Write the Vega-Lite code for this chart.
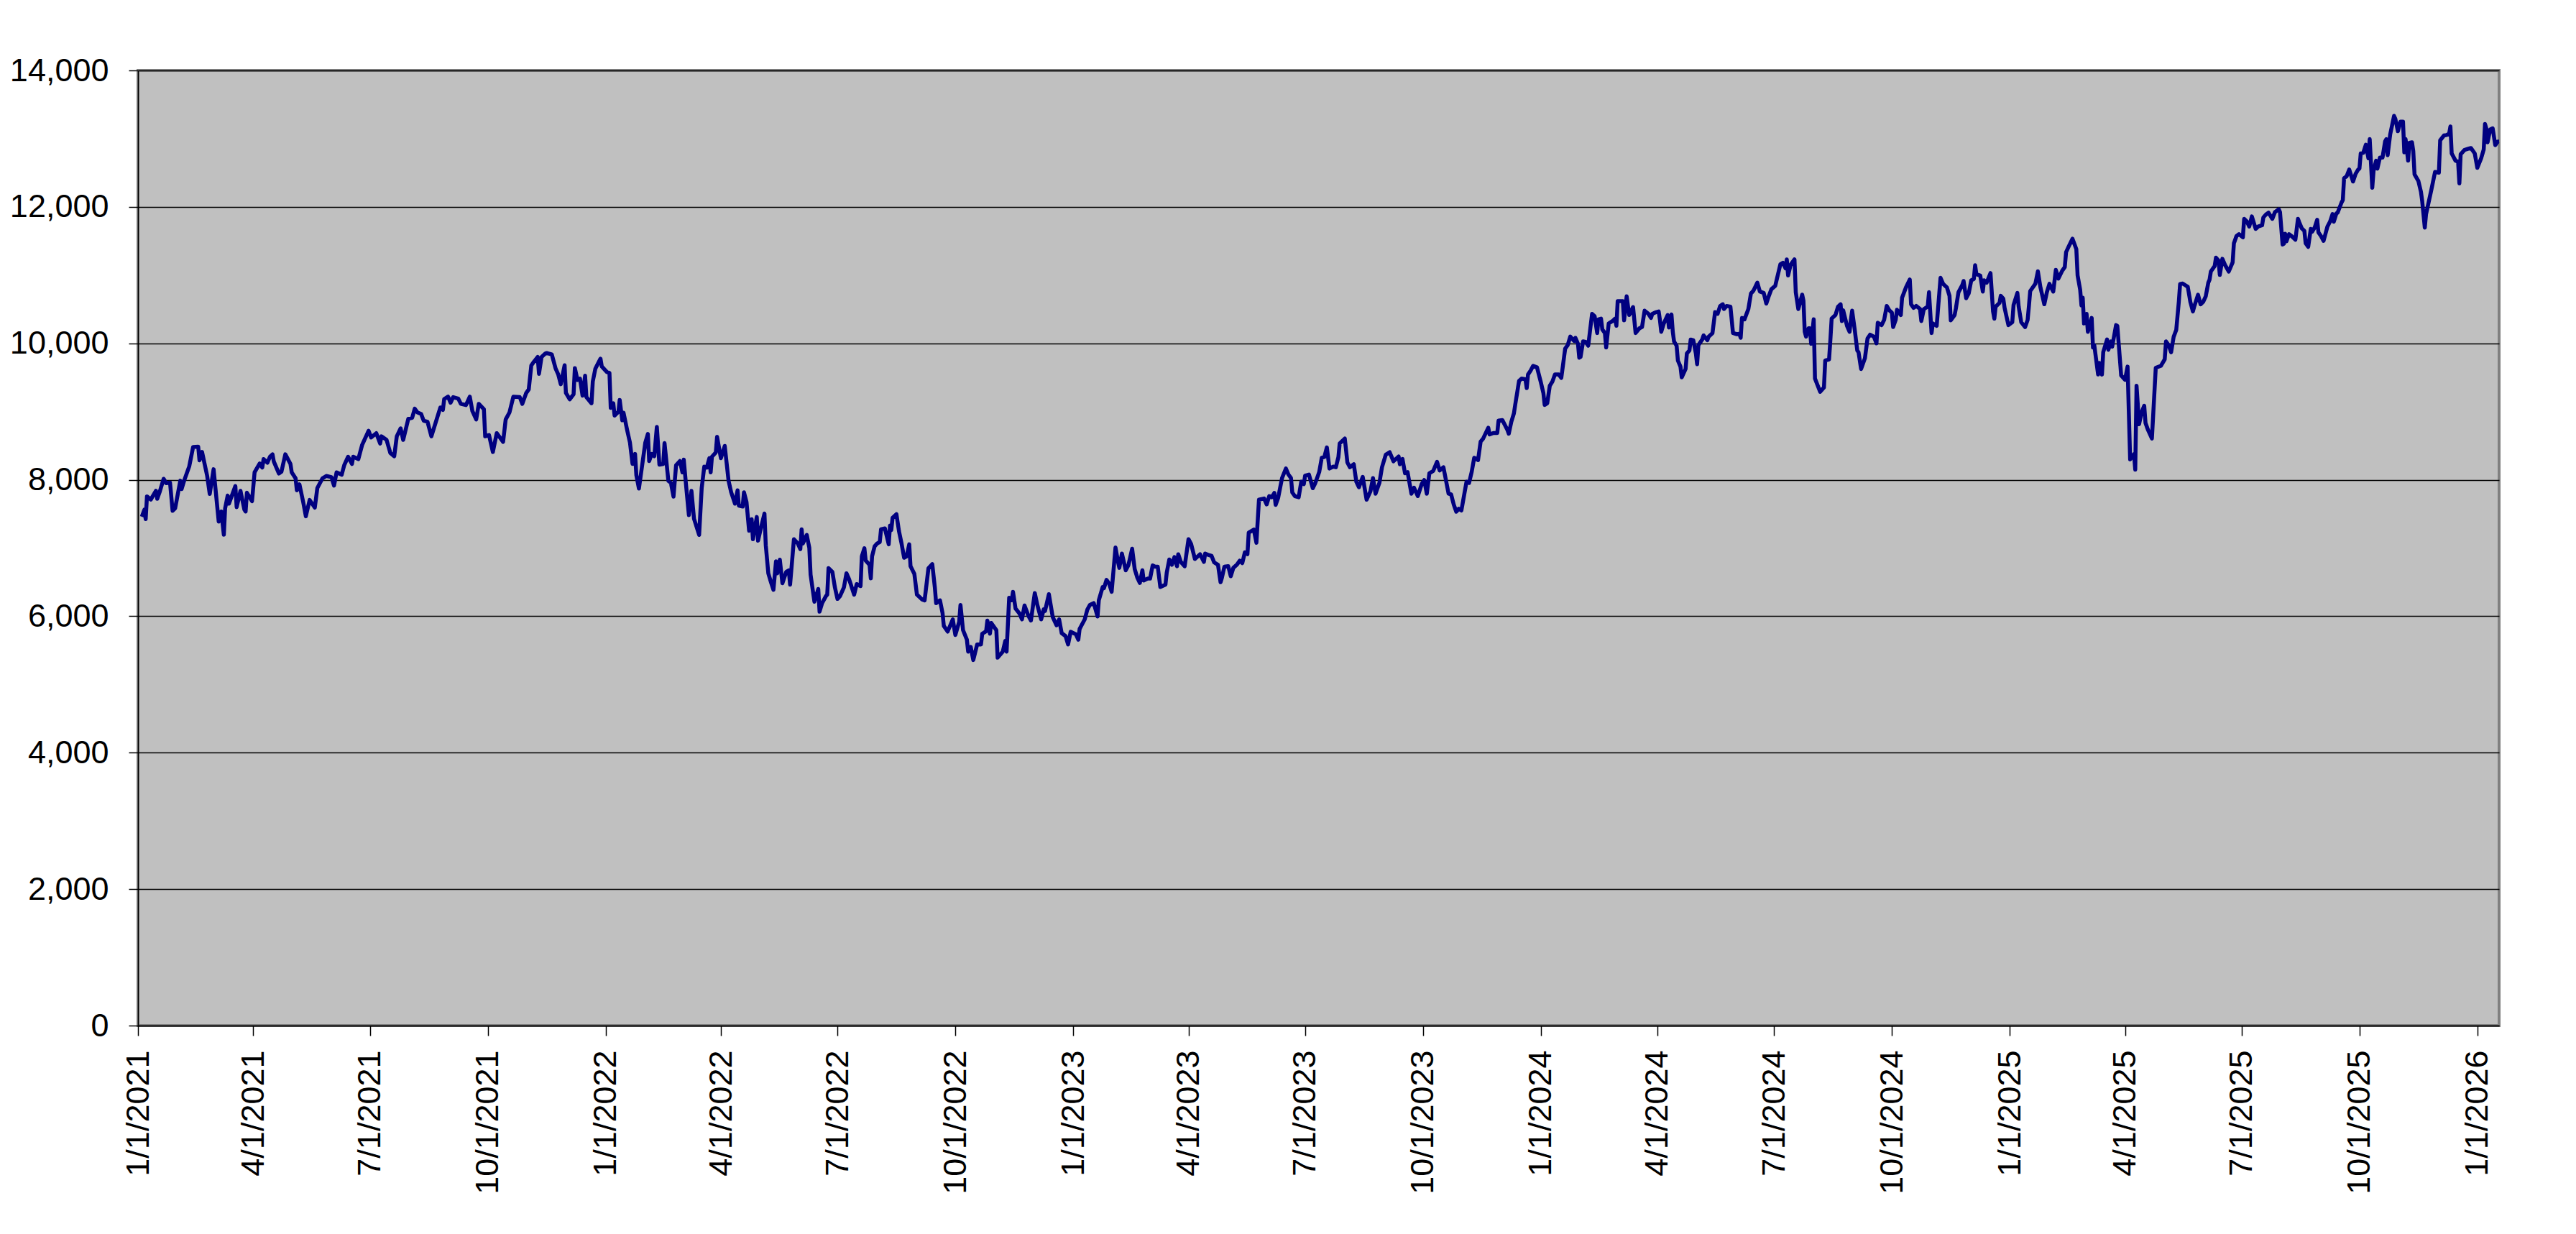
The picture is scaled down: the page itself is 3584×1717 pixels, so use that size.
{
  "$schema": "https://vega.github.io/schema/vega-lite/v6.json",
  "description": "Daily index level, Jan 2021 - Jan 2026",
  "autosize": {"type": "none"},
  "width": 3285,
  "height": 1329,
  "padding": {"left": 192, "top": 98, "right": 107, "bottom": 290},
  "background": "white",
  "data": {
    "values": [
      {"date":"2021-01-04","value":7458},{"date":"2021-01-06","value":7563},{"date":"2021-01-07","value":7423},{"date":"2021-01-08","value":7757},
      {"date":"2021-01-11","value":7711},{"date":"2021-01-13","value":7775},{"date":"2021-01-15","value":7838},{"date":"2021-01-16","value":7722},
      {"date":"2021-01-18","value":7827},{"date":"2021-01-21","value":8014},{"date":"2021-01-23","value":7951},{"date":"2021-01-26","value":7958},
      {"date":"2021-01-28","value":7546},{"date":"2021-01-30","value":7581},{"date":"2021-02-03","value":7986},{"date":"2021-02-04","value":7863},
      {"date":"2021-02-06","value":7986},{"date":"2021-02-10","value":8197},{"date":"2021-02-13","value":8479},{"date":"2021-02-17","value":8486},
      {"date":"2021-02-18","value":8285},{"date":"2021-02-20","value":8408},{"date":"2021-02-24","value":8056},{"date":"2021-02-26","value":7792},
      {"date":"2021-03-01","value":8155},{"date":"2021-03-05","value":7387},{"date":"2021-03-07","value":7535},{"date":"2021-03-09","value":7194},
      {"date":"2021-03-10","value":7581},{"date":"2021-03-12","value":7768},{"date":"2021-03-13","value":7651},{"date":"2021-03-18","value":7908},
      {"date":"2021-03-19","value":7599},{"date":"2021-03-22","value":7838},{"date":"2021-03-25","value":7563},{"date":"2021-03-26","value":7535},
      {"date":"2021-03-27","value":7810},{"date":"2021-03-31","value":7687},{"date":"2021-04-02","value":8109},{"date":"2021-04-06","value":8239},
      {"date":"2021-04-08","value":8180},{"date":"2021-04-09","value":8303},{"date":"2021-04-12","value":8250},{"date":"2021-04-14","value":8338},
      {"date":"2021-04-16","value":8373},{"date":"2021-04-17","value":8268},{"date":"2021-04-21","value":8092},{"date":"2021-04-23","value":8120},
      {"date":"2021-04-26","value":8373},{"date":"2021-04-30","value":8232},{"date":"2021-05-01","value":8109},{"date":"2021-05-04","value":8021},
      {"date":"2021-05-05","value":7845},{"date":"2021-05-07","value":7933},{"date":"2021-05-10","value":7669},{"date":"2021-05-12","value":7465},
      {"date":"2021-05-15","value":7704},{"date":"2021-05-19","value":7592},{"date":"2021-05-21","value":7880},{"date":"2021-05-25","value":8021},
      {"date":"2021-05-28","value":8056},{"date":"2021-06-01","value":8039},{"date":"2021-06-03","value":7915},{"date":"2021-06-05","value":8109},
      {"date":"2021-06-09","value":8074},{"date":"2021-06-11","value":8215},{"date":"2021-06-14","value":8338},{"date":"2021-06-17","value":8232},
      {"date":"2021-06-18","value":8338},{"date":"2021-06-22","value":8303},{"date":"2021-06-25","value":8514},{"date":"2021-06-30","value":8718},
      {"date":"2021-07-02","value":8620},{"date":"2021-07-06","value":8683},{"date":"2021-07-09","value":8532},{"date":"2021-07-10","value":8637},
      {"date":"2021-07-14","value":8585},{"date":"2021-07-17","value":8391},{"date":"2021-07-20","value":8345},{"date":"2021-07-22","value":8637},
      {"date":"2021-07-25","value":8754},{"date":"2021-07-27","value":8585},{"date":"2021-07-31","value":8894},{"date":"2021-08-03","value":8908},
      {"date":"2021-08-05","value":9042},{"date":"2021-08-07","value":8989},{"date":"2021-08-10","value":8965},{"date":"2021-08-12","value":8866},
      {"date":"2021-08-15","value":8849},{"date":"2021-08-18","value":8637},{"date":"2021-08-25","value":9060},{"date":"2021-08-27","value":9025},
      {"date":"2021-08-28","value":9183},{"date":"2021-08-31","value":9218},{"date":"2021-09-02","value":9130},{"date":"2021-09-04","value":9211},
      {"date":"2021-09-08","value":9190},{"date":"2021-09-10","value":9113},{"date":"2021-09-14","value":9095},{"date":"2021-09-17","value":9218},
      {"date":"2021-09-19","value":9007},{"date":"2021-09-22","value":8884},{"date":"2021-09-24","value":9113},{"date":"2021-09-28","value":9035},
      {"date":"2021-09-29","value":8637},{"date":"2021-10-02","value":8655},{"date":"2021-10-05","value":8408},{"date":"2021-10-08","value":8683},
      {"date":"2021-10-13","value":8556},{"date":"2021-10-15","value":8884},{"date":"2021-10-18","value":8989},{"date":"2021-10-21","value":9218},
      {"date":"2021-10-26","value":9211},{"date":"2021-10-28","value":9113},{"date":"2021-10-31","value":9271},{"date":"2021-11-02","value":9324},
      {"date":"2021-11-04","value":9676},{"date":"2021-11-06","value":9729},{"date":"2021-11-09","value":9800},{"date":"2021-11-10","value":9553},
      {"date":"2021-11-12","value":9800},{"date":"2021-11-15","value":9852},{"date":"2021-11-16","value":9858},{"date":"2021-11-20","value":9837},
      {"date":"2021-11-23","value":9629},{"date":"2021-11-25","value":9546},{"date":"2021-11-27","value":9400},{"date":"2021-11-30","value":9679},
      {"date":"2021-12-01","value":9275},{"date":"2021-12-04","value":9179},{"date":"2021-12-07","value":9254},{"date":"2021-12-08","value":9637},
      {"date":"2021-12-10","value":9463},{"date":"2021-12-12","value":9483},{"date":"2021-12-14","value":9233},{"date":"2021-12-16","value":9525},
      {"date":"2021-12-17","value":9212},{"date":"2021-12-21","value":9121},{"date":"2021-12-22","value":9442},{"date":"2021-12-24","value":9629},
      {"date":"2021-12-28","value":9775},{"date":"2021-12-29","value":9662},{"date":"2022-01-02","value":9579},{"date":"2022-01-04","value":9567},
      {"date":"2022-01-05","value":9054},{"date":"2022-01-07","value":9121},{"date":"2022-01-08","value":8942},{"date":"2022-01-11","value":8996},
      {"date":"2022-01-12","value":9171},{"date":"2022-01-14","value":8871},{"date":"2022-01-15","value":8983},{"date":"2022-01-18","value":8712},
      {"date":"2022-01-20","value":8546},{"date":"2022-01-22","value":8233},{"date":"2022-01-24","value":8379},{"date":"2022-01-25","value":8067},
      {"date":"2022-01-27","value":7871},{"date":"2022-01-30","value":8275},{"date":"2022-02-01","value":8546},{"date":"2022-02-03","value":8671},
      {"date":"2022-02-04","value":8275},{"date":"2022-02-06","value":8379},{"date":"2022-02-08","value":8346},{"date":"2022-02-10","value":8775},
      {"date":"2022-02-12","value":8221},{"date":"2022-02-15","value":8233},{"date":"2022-02-16","value":8538},{"date":"2022-02-19","value":7983},
      {"date":"2022-02-21","value":7954},{"date":"2022-02-23","value":7754},{"date":"2022-02-25","value":8212},{"date":"2022-02-28","value":8275},
      {"date":"2022-03-02","value":8108},{"date":"2022-03-03","value":8296},{"date":"2022-03-05","value":7879},{"date":"2022-03-07","value":7483},
      {"date":"2022-03-09","value":7837},{"date":"2022-03-11","value":7429},{"date":"2022-03-15","value":7192},{"date":"2022-03-17","value":7879},
      {"date":"2022-03-19","value":8192},{"date":"2022-03-21","value":8179},{"date":"2022-03-23","value":8317},{"date":"2022-03-24","value":8108},
      {"date":"2022-03-25","value":8338},{"date":"2022-03-28","value":8400},{"date":"2022-03-29","value":8629},{"date":"2022-04-01","value":8317},
      {"date":"2022-04-04","value":8496},{"date":"2022-04-07","value":7983},{"date":"2022-04-09","value":7817},{"date":"2022-04-12","value":7650},
      {"date":"2022-04-14","value":7846},{"date":"2022-04-15","value":7621},{"date":"2022-04-18","value":7608},{"date":"2022-04-19","value":7817},
      {"date":"2022-04-21","value":7671},{"date":"2022-04-23","value":7254},{"date":"2022-04-25","value":7421},{"date":"2022-04-26","value":7129},
      {"date":"2022-04-29","value":7454},{"date":"2022-04-30","value":7108},{"date":"2022-05-02","value":7275},{"date":"2022-05-05","value":7504},
      {"date":"2022-05-06","value":7046},{"date":"2022-05-08","value":6629},{"date":"2022-05-10","value":6504},{"date":"2022-05-12","value":6387},
      {"date":"2022-05-14","value":6804},{"date":"2022-05-15","value":6629},{"date":"2022-05-17","value":6829},{"date":"2022-05-19","value":6483},
      {"date":"2022-05-22","value":6650},{"date":"2022-05-24","value":6671},{"date":"2022-05-25","value":6462},{"date":"2022-05-28","value":7129},
      {"date":"2022-05-31","value":7067},{"date":"2022-06-02","value":6983},{"date":"2022-06-03","value":7275},{"date":"2022-06-04","value":7067},
      {"date":"2022-06-07","value":7192},{"date":"2022-06-09","value":7004},{"date":"2022-06-10","value":6608},{"date":"2022-06-13","value":6212},
      {"date":"2022-06-16","value":6400},{"date":"2022-06-17","value":6067},{"date":"2022-06-19","value":6192},{"date":"2022-06-22","value":6296},
      {"date":"2022-06-23","value":6317},{"date":"2022-06-24","value":6704},{"date":"2022-06-27","value":6650},{"date":"2022-06-29","value":6421},
      {"date":"2022-07-01","value":6254},{"date":"2022-07-03","value":6296},{"date":"2022-07-06","value":6421},{"date":"2022-07-08","value":6629},
      {"date":"2022-07-10","value":6546},{"date":"2022-07-14","value":6317},{"date":"2022-07-16","value":6471},{"date":"2022-07-19","value":6442},
      {"date":"2022-07-20","value":6879},{"date":"2022-07-22","value":6996},{"date":"2022-07-23","value":6817},{"date":"2022-07-26","value":6754},
      {"date":"2022-07-27","value":6554},{"date":"2022-07-28","value":6879},{"date":"2022-07-30","value":7025},{"date":"2022-08-01","value":7067},
      {"date":"2022-08-03","value":7087},{"date":"2022-08-04","value":7275},{"date":"2022-08-07","value":7287},{"date":"2022-08-10","value":7054},
      {"date":"2022-08-11","value":7329},{"date":"2022-08-12","value":7263},{"date":"2022-08-13","value":7442},{"date":"2022-08-16","value":7496},
      {"date":"2022-08-18","value":7246},{"date":"2022-08-20","value":7067},{"date":"2022-08-22","value":6858},{"date":"2022-08-24","value":6879},
      {"date":"2022-08-26","value":7054},{"date":"2022-08-27","value":6733},{"date":"2022-08-30","value":6621},{"date":"2022-09-01","value":6317},
      {"date":"2022-09-05","value":6246},{"date":"2022-09-07","value":6233},{"date":"2022-09-10","value":6704},{"date":"2022-09-13","value":6763},
      {"date":"2022-09-15","value":6421},{"date":"2022-09-16","value":6192},{"date":"2022-09-19","value":6233},{"date":"2022-09-21","value":6046},
      {"date":"2022-09-22","value":5858},{"date":"2022-09-25","value":5775},{"date":"2022-09-29","value":5954},{"date":"2022-10-01","value":5726},
      {"date":"2022-10-04","value":5919},{"date":"2022-10-05","value":6165},{"date":"2022-10-07","value":5796},{"date":"2022-10-10","value":5656},
      {"date":"2022-10-11","value":5481},{"date":"2022-10-13","value":5551},{"date":"2022-10-15","value":5358},{"date":"2022-10-18","value":5586},
      {"date":"2022-10-21","value":5586},{"date":"2022-10-22","value":5744},{"date":"2022-10-25","value":5779},{"date":"2022-10-26","value":5937},
      {"date":"2022-10-28","value":5744},{"date":"2022-10-29","value":5902},{"date":"2022-11-02","value":5796},{"date":"2022-11-03","value":5393},
      {"date":"2022-11-07","value":5481},{"date":"2022-11-09","value":5639},{"date":"2022-11-10","value":5481},{"date":"2022-11-12","value":6270},
      {"date":"2022-11-14","value":6235},{"date":"2022-11-15","value":6358},{"date":"2022-11-17","value":6112},{"date":"2022-11-20","value":6042},
      {"date":"2022-11-22","value":5954},{"date":"2022-11-24","value":6158},{"date":"2022-11-27","value":6007},{"date":"2022-11-29","value":5937},
      {"date":"2022-12-02","value":6340},{"date":"2022-12-04","value":6165},{"date":"2022-12-07","value":5954},{"date":"2022-12-09","value":6102},
      {"date":"2022-12-10","value":6077},{"date":"2022-12-13","value":6323},{"date":"2022-12-16","value":5989},{"date":"2022-12-19","value":5867},
      {"date":"2022-12-21","value":5954},{"date":"2022-12-23","value":5751},{"date":"2022-12-26","value":5709},{"date":"2022-12-28","value":5586},
      {"date":"2022-12-30","value":5772},{"date":"2023-01-03","value":5737},{"date":"2023-01-05","value":5656},{"date":"2023-01-06","value":5814},
      {"date":"2023-01-07","value":5849},{"date":"2023-01-10","value":5954},{"date":"2023-01-12","value":6095},{"date":"2023-01-14","value":6165},
      {"date":"2023-01-17","value":6193},{"date":"2023-01-20","value":5996},{"date":"2023-01-21","value":6235},{"date":"2023-01-24","value":6428},
      {"date":"2023-01-25","value":6411},{"date":"2023-01-27","value":6533},{"date":"2023-01-29","value":6481},{"date":"2023-01-31","value":6358},
      {"date":"2023-02-03","value":7007},{"date":"2023-02-05","value":6796},{"date":"2023-02-06","value":6709},{"date":"2023-02-08","value":6919},
      {"date":"2023-02-11","value":6674},{"date":"2023-02-13","value":6744},{"date":"2023-02-16","value":6989},{"date":"2023-02-18","value":6691},
      {"date":"2023-02-20","value":6568},{"date":"2023-02-22","value":6488},{"date":"2023-02-24","value":6674},{"date":"2023-02-25","value":6523},
      {"date":"2023-02-28","value":6551},{"date":"2023-03-02","value":6551},{"date":"2023-03-04","value":6744},{"date":"2023-03-06","value":6726},
      {"date":"2023-03-08","value":6726},{"date":"2023-03-10","value":6428},{"date":"2023-03-14","value":6463},{"date":"2023-03-15","value":6639},
      {"date":"2023-03-17","value":6832},{"date":"2023-03-19","value":6754},{"date":"2023-03-21","value":6867},{"date":"2023-03-23","value":6733},
      {"date":"2023-03-24","value":6909},{"date":"2023-03-26","value":6796},{"date":"2023-03-29","value":6733},{"date":"2023-04-01","value":7130},
      {"date":"2023-04-03","value":7060},{"date":"2023-04-06","value":6839},{"date":"2023-04-10","value":6909},{"date":"2023-04-13","value":6796},
      {"date":"2023-04-14","value":6919},{"date":"2023-04-17","value":6895},{"date":"2023-04-19","value":6884},{"date":"2023-04-21","value":6789},
      {"date":"2023-04-24","value":6754},{"date":"2023-04-26","value":6498},{"date":"2023-04-27","value":6558},{"date":"2023-04-29","value":6726},
      {"date":"2023-05-02","value":6733},{"date":"2023-05-04","value":6586},{"date":"2023-05-06","value":6709},{"date":"2023-05-09","value":6761},
      {"date":"2023-05-11","value":6814},{"date":"2023-05-13","value":6779},{"date":"2023-05-15","value":6937},{"date":"2023-05-17","value":6909},
      {"date":"2023-05-18","value":7225},{"date":"2023-05-22","value":7270},{"date":"2023-05-24","value":7077},{"date":"2023-05-26","value":7709},
      {"date":"2023-05-30","value":7726},{"date":"2023-06-01","value":7639},{"date":"2023-06-03","value":7761},{"date":"2023-06-05","value":7744},
      {"date":"2023-06-07","value":7807},{"date":"2023-06-08","value":7632},{"date":"2023-06-10","value":7737},{"date":"2023-06-13","value":8025},
      {"date":"2023-06-16","value":8165},{"date":"2023-06-18","value":8077},{"date":"2023-06-20","value":8025},{"date":"2023-06-21","value":7814},
      {"date":"2023-06-23","value":7761},{"date":"2023-06-26","value":7744},{"date":"2023-06-28","value":7972},{"date":"2023-06-30","value":7937},
      {"date":"2023-07-01","value":8060},{"date":"2023-07-04","value":8077},{"date":"2023-07-07","value":7877},{"date":"2023-07-09","value":7954},
      {"date":"2023-07-12","value":8112},{"date":"2023-07-14","value":8323},{"date":"2023-07-16","value":8333},{"date":"2023-07-18","value":8474},
      {"date":"2023-07-20","value":8165},{"date":"2023-07-23","value":8193},{"date":"2023-07-25","value":8183},{"date":"2023-07-27","value":8333},
      {"date":"2023-07-28","value":8533},{"date":"2023-08-01","value":8604},{"date":"2023-08-03","value":8253},{"date":"2023-08-05","value":8183},
      {"date":"2023-08-08","value":8228},{"date":"2023-08-10","value":7972},{"date":"2023-08-12","value":7891},{"date":"2023-08-15","value":8042},
      {"date":"2023-08-18","value":7708},{"date":"2023-08-21","value":7831},{"date":"2023-08-23","value":8025},{"date":"2023-08-25","value":7796},
      {"date":"2023-08-28","value":7954},{"date":"2023-08-30","value":8183},{"date":"2023-09-02","value":8369},{"date":"2023-09-05","value":8404},
      {"date":"2023-09-08","value":8271},{"date":"2023-09-12","value":8341},{"date":"2023-09-13","value":8228},{"date":"2023-09-15","value":8306},
      {"date":"2023-09-17","value":8095},{"date":"2023-09-19","value":8112},{"date":"2023-09-22","value":7796},{"date":"2023-09-24","value":7884},
      {"date":"2023-09-27","value":7761},{"date":"2023-09-30","value":7937},{"date":"2023-10-02","value":7996},{"date":"2023-10-04","value":7796},
      {"date":"2023-10-06","value":8095},{"date":"2023-10-09","value":8130},{"date":"2023-10-12","value":8264},{"date":"2023-10-14","value":8137},
      {"date":"2023-10-17","value":8183},{"date":"2023-10-21","value":7796},{"date":"2023-10-23","value":7785},{"date":"2023-10-25","value":7638},
      {"date":"2023-10-27","value":7532},{"date":"2023-10-29","value":7575},{"date":"2023-10-31","value":7550},{"date":"2023-11-04","value":7972},
      {"date":"2023-11-06","value":7954},{"date":"2023-11-08","value":8112},{"date":"2023-11-10","value":8323},{"date":"2023-11-13","value":8288},
      {"date":"2023-11-15","value":8559},{"date":"2023-11-17","value":8605},{"date":"2023-11-21","value":8763},{"date":"2023-11-22","value":8664},
      {"date":"2023-11-25","value":8685},{"date":"2023-11-28","value":8685},{"date":"2023-11-29","value":8868},{"date":"2023-12-02","value":8875},
      {"date":"2023-12-06","value":8728},{"date":"2023-12-07","value":8675},{"date":"2023-12-09","value":8851},{"date":"2023-12-11","value":8974},
      {"date":"2023-12-12","value":9097},{"date":"2023-12-15","value":9448},{"date":"2023-12-17","value":9483},{"date":"2023-12-20","value":9473},
      {"date":"2023-12-21","value":9343},{"date":"2023-12-22","value":9543},{"date":"2023-12-24","value":9599},{"date":"2023-12-26","value":9670},
      {"date":"2023-12-29","value":9649},{"date":"2024-01-01","value":9431},{"date":"2024-01-03","value":9272},{"date":"2024-01-04","value":9097},
      {"date":"2024-01-06","value":9121},{"date":"2024-01-08","value":9378},{"date":"2024-01-10","value":9438},{"date":"2024-01-12","value":9543},
      {"date":"2024-01-15","value":9543},{"date":"2024-01-17","value":9494},{"date":"2024-01-20","value":9923},{"date":"2024-01-22","value":9975},
      {"date":"2024-01-24","value":10098},{"date":"2024-01-27","value":10035},{"date":"2024-01-28","value":10081},{"date":"2024-01-30","value":9993},
      {"date":"2024-01-31","value":9789},{"date":"2024-02-01","value":9800},{"date":"2024-02-03","value":10028},{"date":"2024-02-05","value":10021},
      {"date":"2024-02-07","value":9965},{"date":"2024-02-10","value":10432},{"date":"2024-02-12","value":10397},{"date":"2024-02-14","value":10151},
      {"date":"2024-02-15","value":10352},{"date":"2024-02-17","value":10362},{"date":"2024-02-18","value":10204},{"date":"2024-02-20","value":10151},
      {"date":"2024-02-21","value":9940},{"date":"2024-02-23","value":10292},{"date":"2024-02-26","value":10327},{"date":"2024-02-28","value":10362},
      {"date":"2024-02-29","value":10257},{"date":"2024-03-01","value":10619},{"date":"2024-03-05","value":10619},{"date":"2024-03-06","value":10337},
      {"date":"2024-03-08","value":10689},{"date":"2024-03-10","value":10415},{"date":"2024-03-13","value":10531},{"date":"2024-03-15","value":10151},
      {"date":"2024-03-18","value":10221},{"date":"2024-03-20","value":10239},{"date":"2024-03-22","value":10478},{"date":"2024-03-25","value":10432},
      {"date":"2024-03-27","value":10373},{"date":"2024-03-28","value":10432},{"date":"2024-03-31","value":10457},{"date":"2024-04-02","value":10467},
      {"date":"2024-04-03","value":10337},{"date":"2024-04-04","value":10169},{"date":"2024-04-06","value":10292},{"date":"2024-04-09","value":10415},
      {"date":"2024-04-10","value":10232},{"date":"2024-04-12","value":10422},{"date":"2024-04-13","value":10169},{"date":"2024-04-14","value":10028},
      {"date":"2024-04-16","value":9965},{"date":"2024-04-17","value":9747},{"date":"2024-04-19","value":9659},{"date":"2024-04-20","value":9501},
      {"date":"2024-04-23","value":9624},{"date":"2024-04-24","value":9852},{"date":"2024-04-26","value":9895},{"date":"2024-04-27","value":10056},
      {"date":"2024-04-29","value":10046},{"date":"2024-05-01","value":9852},{"date":"2024-05-02","value":9694},{"date":"2024-05-03","value":9975},
      {"date":"2024-05-06","value":10056},{"date":"2024-05-07","value":10116},{"date":"2024-05-10","value":10046},{"date":"2024-05-11","value":10098},
      {"date":"2024-05-14","value":10151},{"date":"2024-05-16","value":10457},{"date":"2024-05-18","value":10432},{"date":"2024-05-20","value":10548},
      {"date":"2024-05-22","value":10573},{"date":"2024-05-23","value":10503},{"date":"2024-05-25","value":10548},{"date":"2024-05-28","value":10538},
      {"date":"2024-05-30","value":10151},{"date":"2024-06-02","value":10134},{"date":"2024-06-04","value":10141},{"date":"2024-06-05","value":10081},
      {"date":"2024-06-06","value":10373},{"date":"2024-06-08","value":10352},{"date":"2024-06-11","value":10503},{"date":"2024-06-13","value":10731},
      {"date":"2024-06-15","value":10773},{"date":"2024-06-18","value":10889},{"date":"2024-06-20","value":10759},{"date":"2024-06-23","value":10738},
      {"date":"2024-06-25","value":10583},{"date":"2024-06-27","value":10696},{"date":"2024-06-29","value":10794},{"date":"2024-07-02","value":10844},
      {"date":"2024-07-06","value":11160},{"date":"2024-07-08","value":11181},{"date":"2024-07-10","value":11100},{"date":"2024-07-11","value":11230},
      {"date":"2024-07-12","value":10995},{"date":"2024-07-14","value":11153},{"date":"2024-07-17","value":11230},{"date":"2024-07-18","value":10749},
      {"date":"2024-07-20","value":10503},{"date":"2024-07-23","value":10714},{"date":"2024-07-24","value":10626},{"date":"2024-07-25","value":10169},
      {"date":"2024-07-26","value":10098},{"date":"2024-07-28","value":10221},{"date":"2024-07-29","value":10221},{"date":"2024-07-30","value":9993},
      {"date":"2024-08-01","value":10352},{"date":"2024-08-02","value":9483},{"date":"2024-08-06","value":9290},{"date":"2024-08-09","value":9353},
      {"date":"2024-08-10","value":9747},{"date":"2024-08-13","value":9764},{"date":"2024-08-14","value":10046},{"date":"2024-08-15","value":10362},
      {"date":"2024-08-18","value":10415},{"date":"2024-08-20","value":10538},{"date":"2024-08-22","value":10573},{"date":"2024-08-23","value":10327},
      {"date":"2024-08-24","value":10485},{"date":"2024-08-27","value":10257},{"date":"2024-08-29","value":10169},{"date":"2024-08-30","value":10344},
      {"date":"2024-08-31","value":10478},{"date":"2024-09-02","value":10204},{"date":"2024-09-04","value":9895},{"date":"2024-09-05","value":9870},
      {"date":"2024-09-07","value":9624},{"date":"2024-09-10","value":9782},{"date":"2024-09-12","value":10070},{"date":"2024-09-14","value":10127},
      {"date":"2024-09-17","value":10098},{"date":"2024-09-19","value":10000},{"date":"2024-09-20","value":10302},{"date":"2024-09-23","value":10267},
      {"date":"2024-09-25","value":10344},{"date":"2024-09-27","value":10548},{"date":"2024-09-29","value":10485},{"date":"2024-10-01","value":10450},
      {"date":"2024-10-02","value":10239},{"date":"2024-10-04","value":10344},{"date":"2024-10-05","value":10492},{"date":"2024-10-08","value":10415},
      {"date":"2024-10-09","value":10668},{"date":"2024-10-12","value":10819},{"date":"2024-10-15","value":10935},{"date":"2024-10-16","value":10573},
      {"date":"2024-10-18","value":10520},{"date":"2024-10-20","value":10548},{"date":"2024-10-23","value":10503},{"date":"2024-10-24","value":10327},
      {"date":"2024-10-26","value":10503},{"date":"2024-10-29","value":10538},{"date":"2024-10-30","value":10749},{"date":"2024-11-01","value":10151},
      {"date":"2024-11-02","value":10292},{"date":"2024-11-05","value":10257},{"date":"2024-11-08","value":10960},{"date":"2024-11-10","value":10872},
      {"date":"2024-11-13","value":10819},{"date":"2024-11-15","value":10696},{"date":"2024-11-16","value":10337},{"date":"2024-11-19","value":10415},
      {"date":"2024-11-20","value":10513},{"date":"2024-11-22","value":10749},{"date":"2024-11-25","value":10854},{"date":"2024-11-26","value":10914},
      {"date":"2024-11-28","value":10661},{"date":"2024-11-30","value":10731},{"date":"2024-12-02","value":10924},{"date":"2024-12-04","value":10942},
      {"date":"2024-12-05","value":11146},{"date":"2024-12-06","value":11012},{"date":"2024-12-09","value":10995},{"date":"2024-12-11","value":10759},
      {"date":"2024-12-12","value":10924},{"date":"2024-12-14","value":10889},{"date":"2024-12-17","value":11030},{"date":"2024-12-19","value":10467},
      {"date":"2024-12-20","value":10362},{"date":"2024-12-21","value":10538},{"date":"2024-12-24","value":10591},{"date":"2024-12-25","value":10696},
      {"date":"2024-12-27","value":10654},{"date":"2024-12-28","value":10520},{"date":"2024-12-31","value":10267},{"date":"2025-01-03","value":10309},
      {"date":"2025-01-04","value":10562},{"date":"2025-01-07","value":10738},{"date":"2025-01-08","value":10538},{"date":"2025-01-10","value":10309},
      {"date":"2025-01-13","value":10239},{"date":"2025-01-15","value":10344},{"date":"2025-01-16","value":10548},{"date":"2025-01-17","value":10766},
      {"date":"2025-01-21","value":10872},{"date":"2025-01-23","value":11055},{"date":"2025-01-25","value":10819},{"date":"2025-01-28","value":10573},
      {"date":"2025-01-30","value":10749},{"date":"2025-02-01","value":10872},{"date":"2025-02-04","value":10759},{"date":"2025-02-06","value":11076},
      {"date":"2025-02-08","value":10949},{"date":"2025-02-11","value":11065},{"date":"2025-02-13","value":11118},{"date":"2025-02-14","value":11336},
      {"date":"2025-02-16","value":11417},{"date":"2025-02-19","value":11533},{"date":"2025-02-22","value":11381},{"date":"2025-02-23","value":10995},
      {"date":"2025-02-25","value":10784},{"date":"2025-02-26","value":10555},{"date":"2025-02-27","value":10668},{"date":"2025-02-28","value":10292},
      {"date":"2025-03-02","value":10432},{"date":"2025-03-03","value":10169},{"date":"2025-03-06","value":10373},{"date":"2025-03-07","value":9940},
      {"date":"2025-03-08","value":9975},{"date":"2025-03-11","value":9543},{"date":"2025-03-12","value":9712},{"date":"2025-03-14","value":9543},
      {"date":"2025-03-15","value":9870},{"date":"2025-03-18","value":10056},{"date":"2025-03-19","value":9905},{"date":"2025-03-21","value":10028},
      {"date":"2025-03-22","value":9951},{"date":"2025-03-25","value":10267},{"date":"2025-03-26","value":10257},{"date":"2025-03-29","value":9529},
      {"date":"2025-04-01","value":9466},{"date":"2025-04-03","value":9659},{"date":"2025-04-05","value":8299},{"date":"2025-04-08","value":8376},
      {"date":"2025-04-09","value":8148},{"date":"2025-04-10","value":9378},{"date":"2025-04-12","value":8815},{"date":"2025-04-14","value":8991},
      {"date":"2025-04-16","value":9086},{"date":"2025-04-17","value":8833},{"date":"2025-04-19","value":8728},{"date":"2025-04-22","value":8605},
      {"date":"2025-04-25","value":9641},{"date":"2025-04-29","value":9670},{"date":"2025-05-02","value":9765},{"date":"2025-05-03","value":10028},
      {"date":"2025-05-05","value":9975},{"date":"2025-05-07","value":9870},{"date":"2025-05-09","value":10098},{"date":"2025-05-11","value":10196},
      {"date":"2025-05-13","value":10607},{"date":"2025-05-14","value":10870},{"date":"2025-05-16","value":10877},{"date":"2025-05-18","value":10853},
      {"date":"2025-05-20","value":10828},{"date":"2025-05-22","value":10607},{"date":"2025-05-24","value":10467},{"date":"2025-05-25","value":10537},
      {"date":"2025-05-28","value":10712},{"date":"2025-05-30","value":10572},{"date":"2025-06-01","value":10607},{"date":"2025-06-03","value":10688},
      {"date":"2025-06-05","value":10888},{"date":"2025-06-06","value":10933},{"date":"2025-06-07","value":11053},{"date":"2025-06-10","value":11133},
      {"date":"2025-06-11","value":11256},{"date":"2025-06-13","value":11214},{"date":"2025-06-14","value":11003},{"date":"2025-06-16","value":11239},
      {"date":"2025-06-18","value":11151},{"date":"2025-06-21","value":11053},{"date":"2025-06-24","value":11186},{"date":"2025-06-25","value":11467},
      {"date":"2025-06-27","value":11572},{"date":"2025-06-29","value":11600},{"date":"2025-07-02","value":11554},{"date":"2025-07-03","value":11825},
      {"date":"2025-07-05","value":11789},{"date":"2025-07-07","value":11712},{"date":"2025-07-09","value":11860},{"date":"2025-07-12","value":11677},
      {"date":"2025-07-14","value":11712},{"date":"2025-07-17","value":11730},{"date":"2025-07-18","value":11846},{"date":"2025-07-20","value":11888},
      {"date":"2025-07-22","value":11916},{"date":"2025-07-25","value":11825},{"date":"2025-07-27","value":11923},{"date":"2025-07-30","value":11965},
      {"date":"2025-07-31","value":11923},{"date":"2025-08-02","value":11449},{"date":"2025-08-03","value":11460},{"date":"2025-08-04","value":11607},
      {"date":"2025-08-05","value":11495},{"date":"2025-08-07","value":11600},{"date":"2025-08-09","value":11572},{"date":"2025-08-12","value":11519},
      {"date":"2025-08-14","value":11825},{"date":"2025-08-15","value":11775},{"date":"2025-08-17","value":11684},{"date":"2025-08-19","value":11649},
      {"date":"2025-08-20","value":11467},{"date":"2025-08-22","value":11414},{"date":"2025-08-24","value":11677},{"date":"2025-08-25","value":11635},
      {"date":"2025-08-27","value":11695},{"date":"2025-08-29","value":11811},{"date":"2025-08-30","value":11625},{"date":"2025-09-01","value":11572},
      {"date":"2025-09-03","value":11502},{"date":"2025-09-06","value":11712},{"date":"2025-09-08","value":11782},{"date":"2025-09-10","value":11895},
      {"date":"2025-09-11","value":11782},{"date":"2025-09-13","value":11905},{"date":"2025-09-14","value":11916},{"date":"2025-09-17","value":12063},
      {"date":"2025-09-18","value":12098},{"date":"2025-09-19","value":12421},{"date":"2025-09-21","value":12449},{"date":"2025-09-23","value":12547},
      {"date":"2025-09-26","value":12372},{"date":"2025-09-28","value":12484},{"date":"2025-09-30","value":12547},{"date":"2025-10-01","value":12561},
      {"date":"2025-10-02","value":12783},{"date":"2025-10-04","value":12793},{"date":"2025-10-06","value":12912},{"date":"2025-10-08","value":12712},
      {"date":"2025-10-09","value":12993},{"date":"2025-10-11","value":12281},{"date":"2025-10-12","value":12526},{"date":"2025-10-14","value":12677},
      {"date":"2025-10-15","value":12561},{"date":"2025-10-17","value":12723},{"date":"2025-10-19","value":12723},{"date":"2025-10-21","value":12958},
      {"date":"2025-10-22","value":12993},{"date":"2025-10-23","value":12758},{"date":"2025-10-25","value":13063},{"date":"2025-10-28","value":13333},
      {"date":"2025-10-29","value":13291},{"date":"2025-10-31","value":13109},{"date":"2025-11-02","value":13249},{"date":"2025-11-04","value":13249},
      {"date":"2025-11-05","value":12800},{"date":"2025-11-06","value":12993},{"date":"2025-11-08","value":12677},{"date":"2025-11-09","value":12940},
      {"date":"2025-11-11","value":12947},{"date":"2025-11-12","value":12818},{"date":"2025-11-13","value":12477},{"date":"2025-11-16","value":12379},
      {"date":"2025-11-18","value":12221},{"date":"2025-11-19","value":12081},{"date":"2025-11-21","value":11695},{"date":"2025-11-22","value":11895},
      {"date":"2025-11-26","value":12239},{"date":"2025-11-29","value":12512},{"date":"2025-12-02","value":12502},{"date":"2025-12-03","value":12975},
      {"date":"2025-12-06","value":13046},{"date":"2025-12-08","value":13053},{"date":"2025-12-10","value":13074},{"date":"2025-12-11","value":13179},
      {"date":"2025-12-12","value":12783},{"date":"2025-12-15","value":12677},{"date":"2025-12-17","value":12660},{"date":"2025-12-18","value":12344},
      {"date":"2025-12-19","value":12772},{"date":"2025-12-22","value":12835},{"date":"2025-12-25","value":12853},{"date":"2025-12-27","value":12863},
      {"date":"2025-12-30","value":12783},{"date":"2026-01-01","value":12572},{"date":"2026-01-04","value":12712},{"date":"2026-01-06","value":12842},
      {"date":"2026-01-07","value":13214},{"date":"2026-01-08","value":13151},{"date":"2026-01-09","value":12947},{"date":"2026-01-11","value":13133},
      {"date":"2026-01-13","value":13151},{"date":"2026-01-15","value":12905},{"date":"2026-01-17","value":12958},{"date":"2026-01-18","value":12958}
    ]
  },
  "mark": {"type": "line", "color": "#000080", "strokeWidth": 5.5, "strokeJoin": "round"},
  "encoding": {
    "x": {
      "field": "date",
      "type": "temporal",
      "title": null,
      "scale": {
        "type": "utc",
        "domain": [
          {"year": 2021, "month": 1, "date": 1, "utc": true},
          {"year": 2026, "month": 1, "date": 18, "utc": true}
        ]
      },
      "axis": {
        "values": [
          {"year": 2021, "month": 1, "date": 1, "utc": true},
          {"year": 2021, "month": 4, "date": 1, "utc": true},
          {"year": 2021, "month": 7, "date": 1, "utc": true},
          {"year": 2021, "month": 10, "date": 1, "utc": true},
          {"year": 2022, "month": 1, "date": 1, "utc": true},
          {"year": 2022, "month": 4, "date": 1, "utc": true},
          {"year": 2022, "month": 7, "date": 1, "utc": true},
          {"year": 2022, "month": 10, "date": 1, "utc": true},
          {"year": 2023, "month": 1, "date": 1, "utc": true},
          {"year": 2023, "month": 4, "date": 1, "utc": true},
          {"year": 2023, "month": 7, "date": 1, "utc": true},
          {"year": 2023, "month": 10, "date": 1, "utc": true},
          {"year": 2024, "month": 1, "date": 1, "utc": true},
          {"year": 2024, "month": 4, "date": 1, "utc": true},
          {"year": 2024, "month": 7, "date": 1, "utc": true},
          {"year": 2024, "month": 10, "date": 1, "utc": true},
          {"year": 2025, "month": 1, "date": 1, "utc": true},
          {"year": 2025, "month": 4, "date": 1, "utc": true},
          {"year": 2025, "month": 7, "date": 1, "utc": true},
          {"year": 2025, "month": 10, "date": 1, "utc": true},
          {"year": 2026, "month": 1, "date": 1, "utc": true}
        ],
        "format": "%-m/%-d/%Y",
        "labelAngle": 270,
        "labelAlign": "right",
        "labelBaseline": "middle",
        "labelPadding": 20,
        "labelOverlap": false,
        "labelFlush": false,
        "labelLimit": 0,
        "grid": false,
        "tickSize": 14,
        "tickColor": "#000000",
        "tickWidth": 1.5,
        "domainColor": "#000000",
        "domainWidth": 1.5
      }
    },
    "y": {
      "field": "value",
      "type": "quantitative",
      "title": null,
      "scale": {"domain": [0, 14000], "nice": false, "zero": true},
      "axis": {
        "values": [0, 2000, 4000, 6000, 8000, 10000, 12000, 14000],
        "format": ",d",
        "labelPadding": 28,
        "labelLimit": 0,
        "tickSize": 13,
        "tickColor": "#000000",
        "tickWidth": 1.5,
        "domainColor": "#000000",
        "domainWidth": 1.5,
        "grid": true,
        "gridColor": "#000000",
        "gridWidth": 1.5,
        "gridOpacity": 1
      }
    }
  },
  "config": {
    "font": "Liberation Sans",
    "view": {"fill": "#c0c0c0", "stroke": "#808080", "strokeWidth": 4},
    "axis": {
      "labelFont": "Liberation Sans",
      "labelFontSize": 45,
      "labelColor": "#000000"
    }
  }
}
